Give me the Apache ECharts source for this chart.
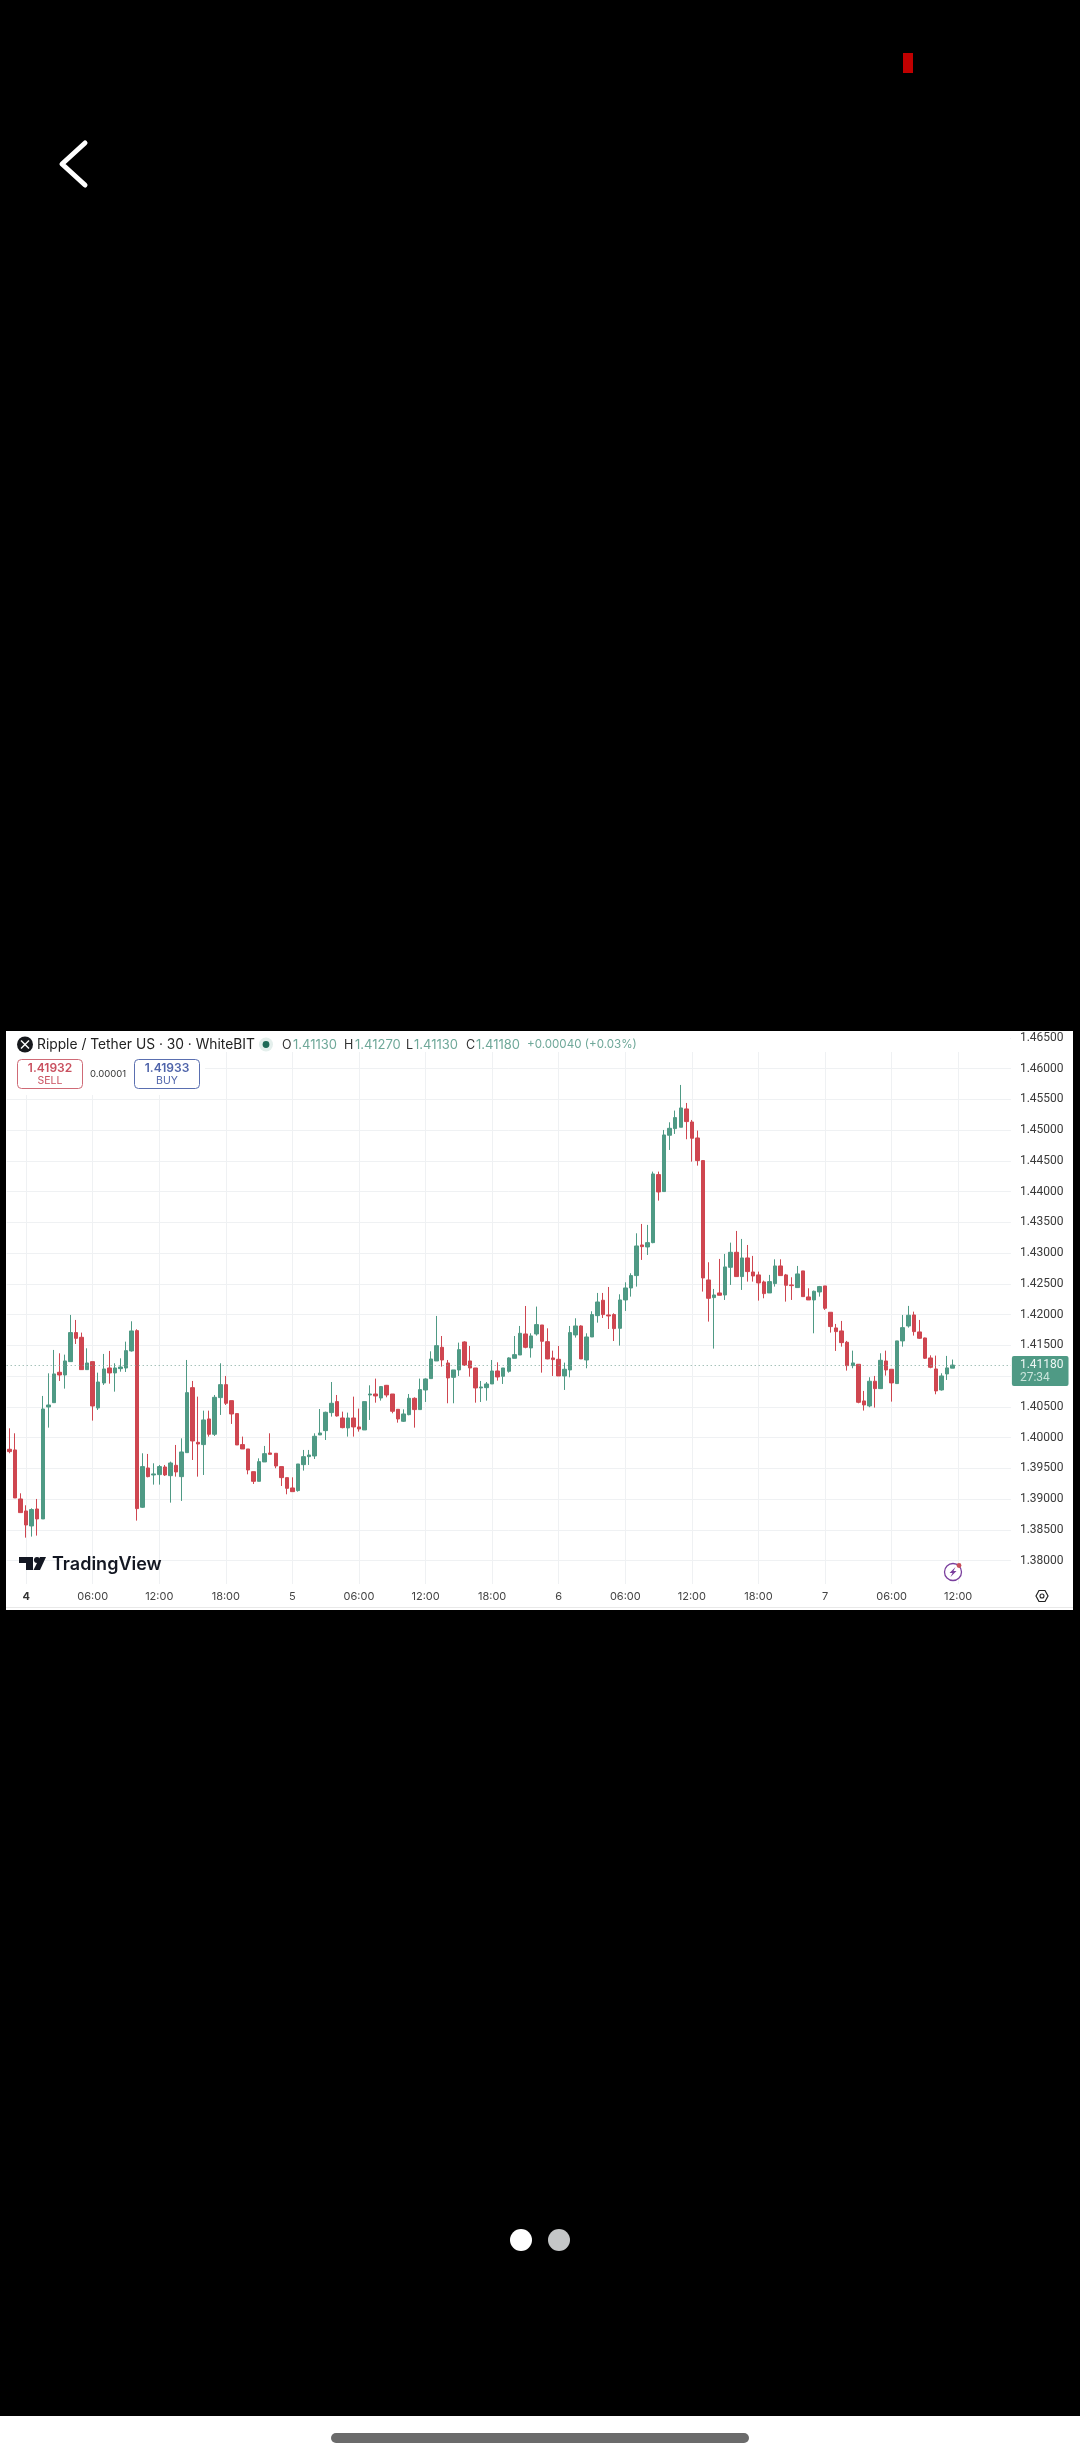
<!DOCTYPE html>
<html>
<head>
<meta charset="utf-8">
<style>
html,body{margin:0;padding:0;background:#000;width:1080px;height:2460px;overflow:hidden}
#panel{position:absolute;left:6px;top:1031px;width:1067px;height:579px;background:#fff}
#foot{position:absolute;left:0;top:2416px;width:1080px;height:44px;background:#fff}
#chart{position:absolute;left:0;top:0;width:1080px;height:2460px}
</style>
<script src="https://cdn.jsdelivr.net/npm/echarts@6/dist/echarts.min.js"></script>
</head>
<body>
<div id="panel"></div>
<div id="foot"></div>
<div id="chart"></div>
<script>
const opens=[1.39811,1.39800,1.39003,1.38808,1.38564,1.38840,1.38678,1.40499,1.40569,1.41063,
1.41019,1.41236,1.41708,1.41632,1.41106,1.41236,1.40483,1.40889,1.41133,1.41052,
1.41122,1.41133,1.41410,1.41740,1.38868,1.39507,1.39393,1.39399,1.39523,1.39382,
1.39550,1.39366,1.39756,1.40813,1.39924,1.39887,1.40304,1.40055,1.40651,1.40862,
1.40602,1.40391,1.39887,1.39816,1.39447,1.39290,1.39605,1.39751,1.39746,1.39529,
1.39350,1.39182,1.39139,1.39561,1.39691,1.39702,1.40044,1.40114,1.40407,1.40586,
1.40320,1.40158,1.40320,1.40174,1.40125,1.40694,1.40710,1.40645,1.40851,1.40710,
1.40461,1.40266,1.40374,1.40640,1.40456,1.40775,1.40960,1.41247,1.41469,1.41214,
1.40981,1.41101,1.41556,1.41247,1.41133,1.40808,1.40813,1.40873,1.41084,1.40998,
1.41079,1.41290,1.41344,1.41686,1.41459,1.41686,1.41832,1.41561,1.41296,1.41274,
1.41003,1.41101,1.41670,1.41816,1.41263,1.41637,1.41984,1.42234,1.41995,1.42001,
1.41778,1.42239,1.42434,1.42635,1.43133,1.43101,1.43171,1.44277,1.44001,1.44917,
1.45025,1.45047,1.45345,1.45133,1.44873,1.44505,1.42564,1.42277,1.42353,1.42320,
1.42770,1.43014,1.42619,1.42922,1.42694,1.42646,1.42532,1.42353,1.42505,1.42792,
1.42646,1.42483,1.42440,1.42711,1.42288,1.42239,1.42369,1.42467,1.42039,1.41784,
1.41735,1.41551,1.41171,1.41193,1.40597,1.40516,1.40917,1.40797,1.41247,1.41112,
1.40879,1.41573,1.41816,1.41995,1.41719,1.41621,1.41296,1.41117,1.40776,1.41036,
1.41130];
const highs=[1.40152,1.40071,1.39095,1.38900,1.38851,1.39003,1.40678,1.41046,1.41426,1.41372,
1.41350,1.41995,1.41914,1.41708,1.41453,1.41236,1.41057,1.41361,1.41410,1.41209,
1.41290,1.41561,1.41892,1.41762,1.39746,1.39735,1.39583,1.39556,1.39556,1.39610,
1.39881,1.39989,1.41263,1.40922,1.40667,1.40439,1.40439,1.40694,1.41209,1.41003,
1.40602,1.40396,1.40017,1.39816,1.39447,1.39664,1.39865,1.40071,1.39746,1.39529,
1.39350,1.39355,1.39572,1.39800,1.39800,1.40071,1.40466,1.40423,1.40905,1.40694,
1.40423,1.40407,1.40667,1.40472,1.40586,1.40851,1.40960,1.40840,1.40857,1.40710,
1.40461,1.40461,1.40710,1.40656,1.40960,1.40965,1.41404,1.41979,1.41653,1.41263,
1.41101,1.41545,1.41567,1.41491,1.41133,1.40922,1.40905,1.41263,1.41225,1.41133,
1.41307,1.41653,1.41816,1.42141,1.41697,1.42131,1.41832,1.41778,1.41415,1.41491,
1.41220,1.41816,1.41941,1.41827,1.41697,1.42055,1.42353,1.42353,1.42450,1.42022,
1.42331,1.42526,1.42673,1.43323,1.43475,1.43459,1.44326,1.44326,1.45003,1.45128,
1.45318,1.45735,1.45442,1.45166,1.44993,1.44505,1.42852,1.42418,1.42906,1.42987,
1.43171,1.43361,1.43231,1.43133,1.42955,1.42700,1.42554,1.42646,1.42900,1.42900,
1.42662,1.42608,1.42792,1.42711,1.42429,1.42391,1.42467,1.42467,1.42039,1.41849,
1.41898,1.41573,1.41415,1.41193,1.40760,1.40982,1.41003,1.41372,1.41415,1.41112,
1.41573,1.41995,1.42142,1.42049,1.41914,1.41627,1.41339,1.41334,1.41047,1.41329,
1.41270];
const lows=[1.39746,1.39019,1.38781,1.38374,1.38391,1.38407,1.38678,1.40163,1.40569,1.40922,
1.40797,1.41236,1.41523,1.41106,1.41106,1.40277,1.40450,1.40857,1.40878,1.40748,
1.41073,1.41068,1.41399,1.38651,1.38857,1.39355,1.39236,1.39236,1.39377,1.38943,
1.39366,1.38971,1.39756,1.39637,1.39366,1.39393,1.40017,1.40027,1.40369,1.40531,
1.40223,1.39881,1.39816,1.39404,1.39247,1.39290,1.39605,1.39729,1.39502,1.39214,
1.39079,1.39122,1.39122,1.39464,1.39556,1.39653,1.40044,1.39962,1.40342,1.40342,
1.40152,1.40017,1.40017,1.40098,1.40125,1.40288,1.40569,1.40602,1.40656,1.40396,
1.40244,1.40255,1.40363,1.40163,1.40456,1.40580,1.40960,1.41247,1.41155,1.40559,
1.40559,1.41003,1.41166,1.40992,1.40569,1.40580,1.40602,1.40873,1.40927,1.40873,
1.41057,1.41290,1.41344,1.41453,1.41301,1.41659,1.41057,1.41274,1.41003,1.41003,
1.40776,1.40982,1.41627,1.41280,1.41128,1.41637,1.41870,1.41946,1.41767,1.41572,
1.41496,1.42060,1.42293,1.42456,1.42890,1.42971,1.43161,1.43854,1.44001,1.44678,
1.44938,1.45047,1.44852,1.44488,1.44423,1.42375,1.41887,1.41448,1.42315,1.42239,
1.42483,1.42619,1.42402,1.42537,1.42537,1.42228,1.42266,1.42353,1.42456,1.42635,
1.42212,1.42239,1.42440,1.42293,1.42239,1.41697,1.42293,1.42077,1.41708,1.41410,
1.41480,1.41090,1.41128,1.40559,1.40440,1.40494,1.40488,1.40797,1.41009,1.40586,
1.40879,1.41480,1.41789,1.41659,1.41605,1.41280,1.41128,1.40705,1.40765,1.40938,
1.41130];
const closes=[1.39773,1.39019,1.38781,1.38580,1.38830,1.38678,1.40466,1.40531,1.41036,1.41019,
1.41247,1.41708,1.41615,1.41106,1.41214,1.40515,1.40905,1.41117,1.41052,1.41133,
1.41149,1.41415,1.41735,1.38846,1.39529,1.39366,1.39410,1.39529,1.39393,1.39588,
1.39442,1.39767,1.40732,1.39946,1.39897,1.40288,1.40055,1.40656,1.40862,1.40559,
1.40385,1.39881,1.39816,1.39475,1.39290,1.39610,1.39740,1.39729,1.39540,1.39350,
1.39176,1.39122,1.39572,1.39691,1.39718,1.40022,1.40076,1.40412,1.40559,1.40353,
1.40163,1.40320,1.40174,1.40141,1.40586,1.40710,1.40678,1.40830,1.40694,1.40429,
1.40304,1.40385,1.40640,1.40456,1.40781,1.40954,1.41279,1.41496,1.41263,1.40971,
1.41101,1.41431,1.41182,1.41133,1.40808,1.40824,1.40873,1.41084,1.40987,1.41133,
1.41296,1.41350,1.41697,1.41469,1.41654,1.41838,1.41567,1.41280,1.41269,1.41003,
1.41112,1.41708,1.41816,1.41280,1.41637,1.42001,1.42206,1.42001,1.41979,1.41773,
1.42239,1.42434,1.42635,1.43117,1.43106,1.43171,1.44288,1.43995,1.44922,1.45030,
1.45204,1.45361,1.45139,1.44868,1.44505,1.42597,1.42266,1.42320,1.42315,1.42776,
1.43014,1.42619,1.42922,1.42700,1.42629,1.42516,1.42342,1.42537,1.42792,1.42635,
1.42478,1.42472,1.42662,1.42293,1.42239,1.42380,1.42456,1.42104,1.41806,1.41724,
1.41545,1.41171,1.41215,1.40575,1.40532,1.40917,1.40797,1.41258,1.41101,1.40890,
1.41573,1.41789,1.41990,1.41724,1.41616,1.41291,1.41144,1.40760,1.41003,1.41134,
1.41180];
const tickLabels=['4','06:00','12:00','18:00','5','06:00','12:00','18:00','6','06:00','12:00','18:00','7','06:00','12:00'];
const firstTickIndex=3, barsPerTick=12, totalSlots=181;
const lastPrice=1.4118, countdown='27:34';
const priceMin=1.375, priceMax=1.465, priceStep=0.005;

const categories=[];
for(let i=0;i<totalSlots;i++){
  const k=i-firstTickIndex;
  categories.push(k>=0&&k%barsPerTick===0&&k/barsPerTick<tickLabels.length?tickLabels[k/barsPerTick]:'');
}
const isTick=(i)=>categories[i]!=='';
const candles=opens.map((o,i)=>[o,closes[i],lows[i],highs[i]]);

const UI='Inter, "Noto Sans", sans-serif';
const GREEN='#4f9a85', RED='#cf4650';
const txt=(x,y,t,font,fill,align)=>({type:'text',z:20,x,y,style:{text:t,font:font+' '+UI,fill,align:align||'left',verticalAlign:'middle'}});
const rect=(x,y,w,h,fill,r,z,stroke)=>({type:'rect',z:z||20,shape:{x,y,width:w,height:h,r:r||0},style:{fill,stroke:stroke||null,lineWidth:stroke?1:0}});

const graphics=[
  // masks that keep the legend area and the foot of the pane clear of grid lines
  rect(6,1031,1004,21,'#fff',0,10),
  rect(6,1031,199,64,'#fff',0,10),
  rect(6,1584,1005,8,'#fff',0,10),
  rect(6,1607,1067,1,'#e9e9e9',0,11),
  // status bar mark and back chevron
  rect(903,53,10,20,'#c00000',0,20),
  {type:'polyline',z:20,shape:{points:[[85,143],[62,164],[85,185]]},style:{stroke:'#fff',lineWidth:5,lineCap:'round',lineJoin:'round',fill:null}},
  // symbol header
  {type:'circle',z:20,shape:{cx:25,cy:1044.5,r:8},style:{fill:'#16181c'}},
  {type:'polyline',z:21,shape:{points:[[21,1040.5],[29,1048.5]]},style:{stroke:'#fff',lineWidth:1.4}},
  {type:'polyline',z:21,shape:{points:[[29,1040.5],[21,1048.5]]},style:{stroke:'#fff',lineWidth:1.4}},
  txt(37,1045,'Ripple / Tether US · 30 · WhiteBIT','13.8px','#222'),
  {type:'circle',z:20,shape:{cx:266,cy:1044.5,r:7},style:{fill:'#e4efec'}},
  {type:'circle',z:21,shape:{cx:266,cy:1044.5,r:3.4},style:{fill:'#1f6b58'}},
  txt(282,1045,'O','12.5px','#333'),txt(293,1045,'1.41130','13px','#6fa899'),
  txt(344,1045,'H','12.5px','#333'),txt(355,1045,'1.41270','13px','#6fa899'),
  txt(406,1045,'L','12.5px','#333'),txt(414,1045,'1.41130','13px','#6fa899'),
  txt(466,1045,'C','12.5px','#333'),txt(476,1045,'1.41180','13px','#6fa899'),
  txt(527,1045,'+0.00040 (+0.03%)','11.6px','#6fa899'),
  // sell / spread / buy
  rect(17.5,1059.5,65,29,'#fff',4,20,'#cf6a76'),
  txt(50,1068,'1.41932','600 12px','#c9505f','center'),
  txt(50,1080.5,'SELL','10.5px','#c9505f','center'),
  txt(108,1074,'0.00001','9.5px','#333','center'),
  rect(134.5,1059.5,65,29,'#fff',4,20,'#5a6fb0'),
  txt(167,1068,'1.41933','600 12px','#4f64aa','center'),
  txt(167,1080.5,'BUY','10.5px','#4f64aa','center'),
  // TradingView logo
  {type:'polygon',z:20,shape:{points:[[19,1557],[33,1557],[33,1570],[26,1570],[26,1563],[19,1563]]},style:{fill:'#131722'}},
  {type:'circle',z:20,shape:{cx:37,cy:1560,r:3},style:{fill:'#131722'}},
  {type:'polygon',z:20,shape:{points:[[40,1557],[46,1557],[40,1570],[33.5,1570]]},style:{fill:'#131722'}},
  txt(52,1565,'TradingView','600 18px','#131722'),
  // lightning badge
  {type:'circle',z:20,shape:{cx:953,cy:1572,r:8.5},style:{fill:'#fff',stroke:'#7a3f9d',lineWidth:1.3}},
  {type:'polygon',z:21,shape:{points:[[955.5,1567],[949.5,1573],[952.5,1573],[950.5,1577],[956.5,1571],[953.5,1571]]},style:{fill:'#7a3f9d'}},
  {type:'circle',z:22,shape:{cx:959,cy:1565.5,r:2.4},style:{fill:'#c8505a'}},
  // settings hexagon
  {type:'polygon',z:20,shape:{points:[[1036,1596],[1039,1590.5],[1045,1590.5],[1048,1596],[1045,1601.5],[1039,1601.5]]},style:{fill:'#fff',stroke:'#222',lineWidth:1.2}},
  {type:'circle',z:21,shape:{cx:1042,cy:1596,r:2},style:{fill:'#fff',stroke:'#222',lineWidth:1.1}},
  // pager and home indicator
  {type:'circle',z:20,shape:{cx:521,cy:2240,r:11},style:{fill:'#fff'}},
  {type:'circle',z:20,shape:{cx:559,cy:2240,r:11},style:{fill:'#c4c6c7'}},
  rect(331,2433,418,10,'#6b6b6b',5,20)
];

const chart=echarts.init(document.getElementById('chart'),null,{renderer:'canvas',width:1080,height:2460});
chart.setOption({
  animation:false,
  backgroundColor:'transparent',
  grid:{left:6.69,width:1004.2,top:1037.9,height:553.5,containLabel:false},
  xAxis:{
    type:'category',data:categories,boundaryGap:true,
    axisLine:{show:false},axisTick:{show:false},
    splitLine:{show:true,alignWithLabel:true,interval:(i)=>isTick(i),lineStyle:{color:'#eff1f3',width:1}},
    axisLabel:{
      interval:(i)=>isTick(i),margin:0,hideOverlap:false,
      fontFamily:UI,fontSize:11,color:'#444',
      formatter:(v)=>v==='4'?'{b|4}':v,
      rich:{b:{fontFamily:UI,fontSize:11,fontWeight:'bold',color:'#333'}}
    }
  },
  yAxis:{
    type:'value',position:'right',min:priceMin,max:priceMax,interval:priceStep,scale:true,
    axisLine:{show:false},axisTick:{show:false},
    splitLine:{show:true,showMinLine:false,lineStyle:{color:'#eff1f3',width:1}},
    axisLabel:{margin:9,padding:[2,0,0,0],fontFamily:'Roboto, sans-serif',fontSize:12,color:'#3a3a3a',showMinLabel:false,showMaxLabel:true,
      formatter:(v)=>v.toFixed(5)}
  },
  series:[{
    type:'candlestick',data:candles,barWidth:4,
    itemStyle:{color:GREEN,color0:RED,borderColor:GREEN,borderColor0:RED,borderWidth:1},
    markLine:{
      silent:true,symbol:'none',animation:false,precision:5,
      lineStyle:{type:[1,3],color:'#7da79b',width:1},
      label:{
        show:true,position:'end',distance:1,align:'left',offset:[0,6],
        formatter:()=>'{p|'+lastPrice.toFixed(5)+'}\n{c|'+countdown+'}',
        backgroundColor:GREEN,borderRadius:2,padding:[2,5,2,8],
        rich:{
          p:{fontFamily:'Roboto, sans-serif',fontSize:12,color:'#eef7f4',lineHeight:13},
          c:{fontFamily:'Roboto, sans-serif',fontSize:12,color:'#c9e4db',lineHeight:13}
        }
      },
      data:[{yAxis:lastPrice}]
    }
  }],
  graphic:{elements:graphics}
});
</script>
</body>
</html>
